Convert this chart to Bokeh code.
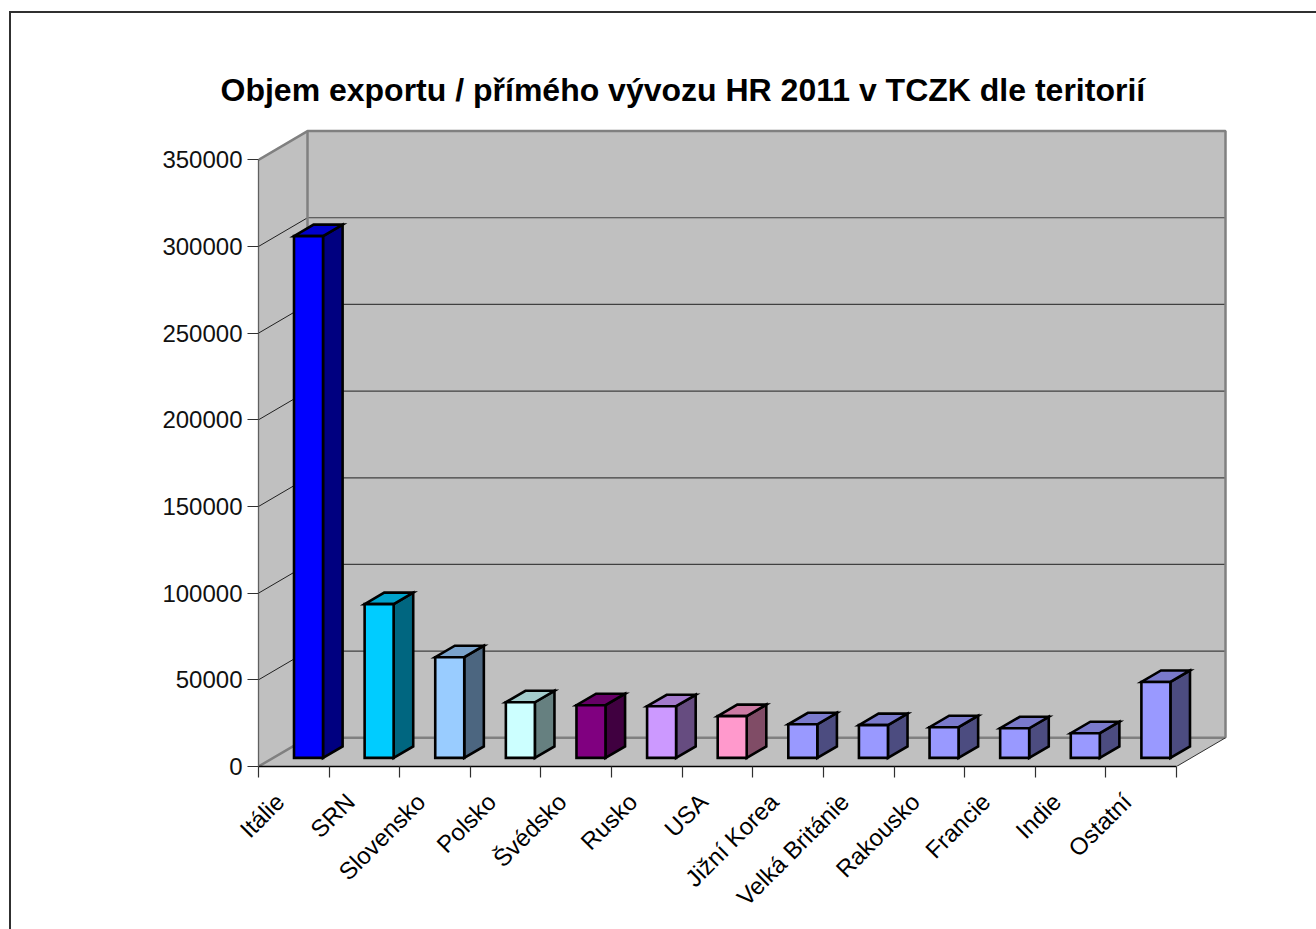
from bokeh.plotting import figure
from bokeh.embed import file_html
from bokeh.resources import INLINE
from bokeh.models import FixedTicker, Range1d, Title, NumeralTickFormatter

CATEGORIES = ["Itálie", "SRN", "Slovensko", "Polsko", "Švédsko", "Rusko", "USA",
              "Jižní Korea", "Velká Británie", "Rakousko", "Francie", "Indie", "Ostatní"]
VALUES = [301000, 88700, 58100, 32100, 30400, 29800, 24100,
          19400, 18900, 17700, 17100, 14250, 43800]
FACE = ["#0000FF", "#00CCFF", "#99CCFF", "#CCFFFF", "#800080", "#CC99FF", "#FF99CC",
        "#9999FF", "#9999FF", "#9999FF", "#9999FF", "#9999FF", "#9999FF"]
Y_TICKS = [0, 50000, 100000, 150000, 200000, 250000, 300000, 350000]
TITLE = "Objem exportu / přímého vývozu HR 2011 v TCZK dle teritorií"

FONT = "Liberation Sans"
Y_MAX = Y_TICKS[-1]
N = len(CATEGORIES)

# pixel geometry: the figure starts at the chart area's border
M_L, M_T, BORDER = 9, 11, 2
W, H = 1316 - M_L, 929 - M_T
F_L, F_T, F_R, F_B = (258 - M_L - BORDER, 128 - M_T - BORDER,
                      1227 - M_L - BORDER, 766 - M_T - BORDER)
PX_X = (1177 - 259) / N            # pixels per category
PX_Y = 606.7 / Y_MAX               # pixels per value unit
DX = 49 / PX_X                     # depth vector in data units
DY = 28.7 / PX_Y
BAR_W = 29 / PX_X
BAR_START = 0.3
BAR_DEPTH = 0.4
LABEL_SHIFT = 14 / PX_X            # rotated labels end left of the category centre


def shade(color, k):
    r, g, b = (int(color[i:i + 2], 16) for i in (1, 3, 5))
    return "#%02X%02X%02X" % (round(r * k), round(g * k), round(b * k))


border_css = f"{BORDER}px solid #303030"
p = figure(width=W, height=H, output_backend="svg", toolbar_location=None,
           x_range=Range1d(0, (F_R - F_L) / PX_X), y_range=Range1d(0, (F_B - F_T) / PX_Y),
           min_border_left=F_L, min_border_right=W - F_R,
           min_border_top=F_T, min_border_bottom=H - F_B,
           margin=(M_T, 0, 0, M_L),
           styles={"border-top": border_css, "border-left": border_css},
           outline_line_color=None, background_fill_color="white", border_fill_color="white")
p.grid.visible = False

p.add_layout(Title(text=TITLE, align="left", offset=-38, standoff=41,
                   text_font=FONT, text_font_size="32px", text_font_style="bold",
                   text_color="black"), "above")

# walls and floor
WALL = "#C0C0C0"
EDGE = "#808080"
p.patches([[0, DX, DX, 0], [DX, N + DX, N + DX, DX], [0, N, N + DX, DX]],
          [[0, DY, Y_MAX + DY, Y_MAX], [DY, DY, Y_MAX + DY, Y_MAX + DY], [0, 0, DY, DY]],
          fill_color=WALL, line_color=None)

# gridlines on the back wall and on the side wall
for v in Y_TICKS[1:-1]:
    p.line([DX, N + DX], [v + DY, v + DY], line_color="#404040", line_width=1.2)
    p.line([0, DX], [v, v + DY], line_color="#202020", line_width=1)

# wall edges
p.line([0, DX, N + DX, N + DX], [Y_MAX, Y_MAX + DY, Y_MAX + DY, DY], line_color=EDGE, line_width=2.5)
p.line([DX, DX], [DY, Y_MAX + DY], line_color=EDGE, line_width=2.5)
p.line([0, DX, N + DX], [0, DY, DY], line_color=EDGE, line_width=2.5)
p.line([N, N + DX], [0, DY], line_color="#303030", line_width=1)

# bars
for i, (v, c) in enumerate(zip(VALUES, FACE)):
    x0 = i + 0.5 - BAR_W / 2 + BAR_START * DX
    x1 = x0 + BAR_W
    y0 = BAR_START * DY
    y1 = y0 + v
    ddx, ddy = BAR_DEPTH * DX, BAR_DEPTH * DY
    p.patch([x1, x1 + ddx, x1 + ddx, x1], [y0, y0 + ddy, y1 + ddy, y1],
            fill_color=shade(c, 0.5), line_color="black", line_width=2.6, line_join="miter")
    p.patch([x0, x1, x1 + ddx, x0 + ddx], [y1, y1, y1 + ddy, y1 + ddy],
            fill_color=shade(c, 0.8), line_color="black", line_width=2.6, line_join="miter")
    p.patch([x0, x1, x1, x0], [y0, y0, y1, y1],
            fill_color=c, line_color="black", line_width=2.6, line_join="miter")

# axes
label_ticks = [i + 0.5 - LABEL_SHIFT for i in range(N)]
xa = p.xaxis[0]
xa.ticker = FixedTicker(ticks=label_ticks, minor_ticks=list(range(N + 1)))
xa.major_label_overrides = {t: c for t, c in zip(label_ticks, CATEGORIES)}
xa.major_label_orientation = 0.785398
xa.major_label_text_font = FONT
xa.major_label_text_font_size = "24px"
xa.major_label_text_color = "black"
xa.major_tick_in = 0
xa.major_tick_out = 0
xa.minor_tick_in = 0
xa.minor_tick_out = 11
xa.minor_tick_line_color = "#303030"
xa.minor_tick_line_width = 1.2
xa.axis_line_color = "black"
xa.axis_line_width = 1.3
xa.bounds = (0, N)
xa.major_label_standoff = 20

ya = p.yaxis[0]
ya.ticker = FixedTicker(ticks=Y_TICKS, minor_ticks=[])
ya.formatter = NumeralTickFormatter(format="0")
ya.major_label_text_font = FONT
ya.major_label_text_font_size = "24px"
ya.major_label_text_color = "#111111"
ya.major_tick_in = 0
ya.major_tick_out = 11
ya.major_tick_line_color = "#303030"
ya.major_tick_line_width = 1.2
ya.axis_line_color = "#606060"
ya.axis_line_width = 1.3
ya.bounds = (0, Y_MAX)
ya.major_label_standoff = 5

open("out.html", "w").write(file_html(p, INLINE))
